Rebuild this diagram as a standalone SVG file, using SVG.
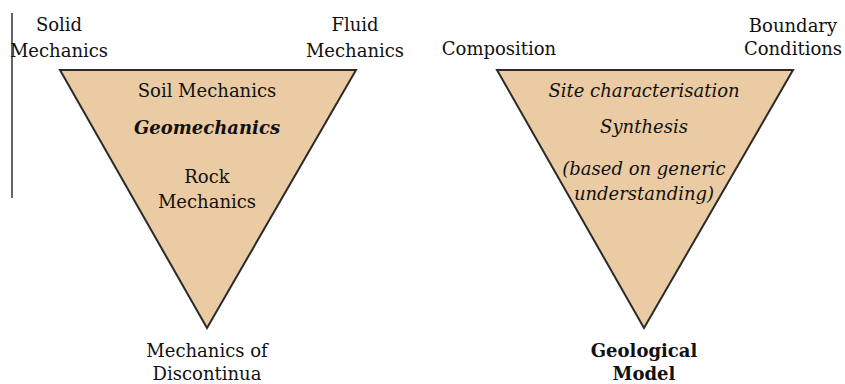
<svg xmlns="http://www.w3.org/2000/svg" width="845" height="384" viewBox="0 0 845 384">
<style>
text{font-family:"DejaVu Serif","Liberation Serif",serif;font-size:18px;fill:#111;text-anchor:middle}
.it{font-style:italic}
.bi{font-style:italic;font-weight:bold}
.b{font-weight:bold}
.tri{fill:#EBCBA3;stroke:#2a2a2a;stroke-width:2;stroke-linejoin:miter}
</style>
<rect width="845" height="384" fill="#fff"/>
<line x1="12" y1="13" x2="12" y2="198" stroke="#333" stroke-width="1.5"/>
<g id="left-triangle">
<polygon class="tri" points="60,70 356,70 207,328"/>
<text x="207" y="97">Soil Mechanics</text>
<text x="207" y="134" class="bi">Geomechanics</text>
<text x="207" y="183">Rock</text>
<text x="207" y="208">Mechanics</text>
</g>
<g id="solid">
<text x="59" y="31">Solid</text>
<text x="59" y="57">Mechanics</text>
</g>
<g id="fluid">
<text x="355" y="31">Fluid</text>
<text x="355" y="57">Mechanics</text>
</g>
<g id="discontinua">
<text x="207" y="357">Mechanics of</text>
<text x="207" y="380">Discontinua</text>
</g>
<g id="right-triangle">
<polygon class="tri" points="497,70 793,70 644,328"/>
<text x="644" y="97" class="it">Site characterisation</text>
<text x="644" y="133" class="it">Synthesis</text>
<text x="644" y="175" class="it">(based on generic</text>
<text x="644" y="200" class="it">understanding)</text>
</g>
<g id="composition">
<text x="499" y="55">Composition</text>
</g>
<g id="boundary">
<text x="793" y="32">Boundary</text>
<text x="793" y="55">Conditions</text>
</g>
<g id="geological-model">
<text x="644" y="357" class="b">Geological</text>
<text x="644" y="380" class="b">Model</text>
</g>
<g id="connectors"></g>
</svg>
